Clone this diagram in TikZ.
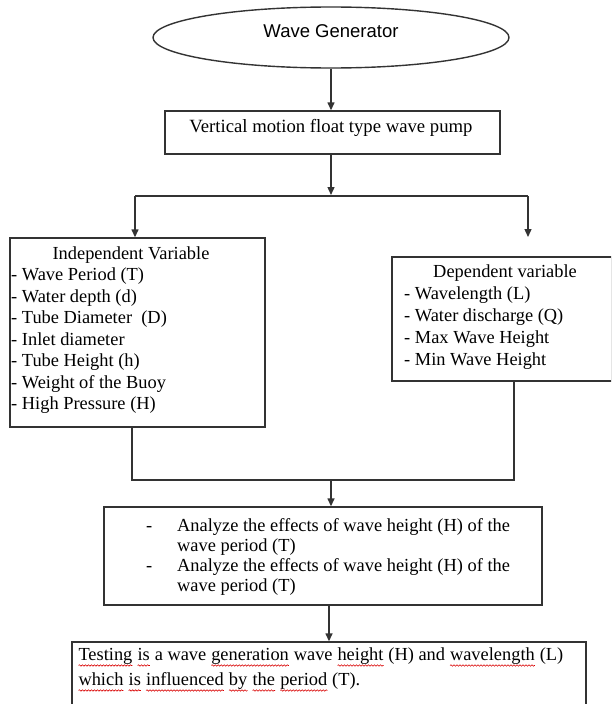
\documentclass[tikz,border=0pt]{standalone}
\usepackage{fontspec}
\setmainfont{Liberation Serif}
\newfontfamily\arialf{Liberation Sans}
\usetikzlibrary{shapes.geometric,arrows.meta,decorations.pathmorphing}
\newcommand\sqw[1]{\tikz[baseline=(sqn.base)]{\node[inner sep=0pt,outer sep=0pt](sqn){#1};\draw[red!85!black,line width=0.6pt,decorate,decoration={snake,amplitude=0.7pt,segment length=3pt}] ([yshift=-5pt]sqn.base west) -- ([yshift=-5pt]sqn.base east);}}
\begin{document}
\begin{tikzpicture}[x=1pt,y=-1pt,
  box/.style={draw=black!80,line width=1.4pt,inner sep=0pt},
  conn/.style={draw=black!80,line width=1.4pt},
  arr/.style={conn,-{Triangle[length=8pt,width=7pt]}},
  txt/.style={inner sep=0pt,font=\fontsize{18.4}{21.5}\selectfont,align=left},
]
\clip (0,0) rectangle (611,704);
\fill[white] (0,0) rectangle (611,704);

% top
\node[box,ellipse,minimum width=356,minimum height=61] (gen) at (331,37.5) {};
\node[txt,font=\arialf\fontsize{18.5}{21}\selectfont] (gent) at (331,31) {Wave Generator};

\node[box,minimum width=335,minimum height=43] (pump) at (332.5,132.5) {};
\node[txt,font=\fontsize{18.7}{21}\selectfont] (pumpt) at (331,128) {Vertical motion float type wave pump};

% independent
\node[box,minimum width=255,minimum height=189] (indep) at (137.5,332.5) {};
\node[txt] (indh) at (131,255) {Independent Variable};
\node[txt,anchor=north west] (indl) at (11,268) {- Wave Period (T)\\- Water depth (d)\\- Tube Diameter \ (D)\\- Inlet diameter\\- Tube Height (h)\\- Weight of the Buoy\\- High Pressure (H)};

% dependent
\node[box,minimum width=220,minimum height=124] (dep) at (502,319) {};
\node[txt] (deph) at (505,273) {Dependent variable};
\node[txt,anchor=north west,font=\fontsize{18.4}{21.7}\selectfont] (depl) at (404,287) {- Wavelength (L)\\- Water discharge (Q)\\- Max Wave Height\\- Min Wave Height};

% analyze
\node[box,minimum width=438,minimum height=98] (ana) at (323,556) {};
\node[txt,anchor=north west,font=\fontsize{18.4}{20}\selectfont] (anat) at (146,518.5) {\makebox[31pt][l]{-}Analyze the effects of wave height (H) of the\\\hspace*{31pt}wave period (T)\\\makebox[31pt][l]{-}Analyze the effects of wave height (H) of the\\\hspace*{31pt}wave period (T)};

% testing
\node[box,minimum width=514,minimum height=100] (test) at (329,692) {};
\node[txt,anchor=north west,font=\fontsize{18.4}{25}\selectfont] (testt) at (78,647.5) {\sqw{Testing} \sqw{is} a wave \sqw{generation} wave \sqw{height} (H) and \sqw{wavelength} (L)\\\sqw{which} \sqw{is} \sqw{influenced} \sqw{by} \sqw{the} \sqw{period} (T).};

% connectors
\coordinate (split) at (331,195);
\coordinate (sl) at (135,196);
\coordinate (sr) at (528,196);
\coordinate (depin) at (528,237);
\coordinate (jl) at (132,480);
\coordinate (jr) at (514,480);
\coordinate (jm) at (331,480);

\draw[arr] (gen.south) -- (gen.south |- pump.north);
\draw[arr] (split |- pump.south) -- (split);
\draw[conn] (sl) -- (sr);
\draw[arr] (sl) -- (sl |- indep.north);
\draw[arr] (sr) -- (depin);
\draw[conn] (jl |- indep.south) -- (jl) -- (jr) -- (jr |- dep.south);
\draw[arr] (jm) -- (jm |- ana.north);
\draw[arr] (test.north |- ana.south) -- (test.north);
\end{tikzpicture}
\end{document}
